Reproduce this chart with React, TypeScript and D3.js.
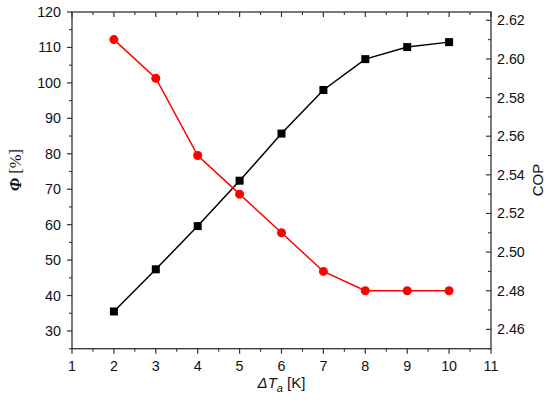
import React from "react";
import * as d3 from "d3";

const deltaT = [2, 3, 4, 5, 6, 7, 8, 9, 10];
const phiValues = [35.5, 47.4, 59.6, 72.4, 85.7, 98.0, 106.7, 110.1, 111.5];
const copValues = [2.61, 2.59, 2.55, 2.53, 2.51, 2.49, 2.48, 2.48, 2.48];
const xTicks = [1, 2, 3, 4, 5, 6, 7, 8, 9, 10, 11];
const leftTicks = [30, 40, 50, 60, 70, 80, 90, 100, 110, 120];
const rightTicks = [2.46, 2.48, 2.5, 2.52, 2.54, 2.56, 2.58, 2.6, 2.62];

const W = 550, H = 410;
const L = 72, R = 491, T = 12, B = 348.7;
const FONT = "Liberation Sans, Arial, sans-serif";

export default function App() {
  const x = d3.scaleLinear().domain([1, 11]).range([L, R]);
  const yL = d3.scaleLinear().domain([25, 120]).range([B, T]);
  const yR = d3.scaleLinear().domain([2.45, 2.6243]).range([B, T]);

  const xMinor = d3.range(1.5, 11, 1);
  const leftMinor = d3.range(25, 120, 10);
  const rightMinor = d3.range(2.45, 2.62, 0.02);

  const linePhi = d3.line<number>().x((_, i) => x(deltaT[i])).y((d) => yL(d));
  const lineCop = d3.line<number>().x((_, i) => x(deltaT[i])).y((d) => yR(d));

  const stroke = "#333";
  return (
    <div style={{ position: "absolute", left: 0, top: 0 }}>
      <svg width={W} height={H} style={{ display: "block", background: "#fff" }} fontFamily={FONT}>
        <rect x={L} y={T} width={R - L} height={B - T} fill="none" stroke={stroke} strokeWidth={1.3} />
        {xTicks.map((t) => (
          <g key={"xb" + t}>
            <line x1={x(t)} x2={x(t)} y1={B} y2={B + 5} stroke={stroke} strokeWidth={1.2} />
            <line x1={x(t)} x2={x(t)} y1={T} y2={T + 5} stroke={stroke} strokeWidth={1.2} />
            <text x={x(t)} y={371} textAnchor="middle" fontSize={14.3} fill="#111">{t}</text>
          </g>
        ))}
        {xMinor.map((t) => (
          <g key={"xm" + t}>
            <line x1={x(t)} x2={x(t)} y1={B} y2={B + 3} stroke={stroke} strokeWidth={1.1} />
            <line x1={x(t)} x2={x(t)} y1={T} y2={T + 3} stroke={stroke} strokeWidth={1.1} />
          </g>
        ))}
        {leftTicks.map((t) => (
          <g key={"yl" + t}>
            <line x1={L - 5} x2={L} y1={yL(t)} y2={yL(t)} stroke={stroke} strokeWidth={1.2} />
            <text x={61} y={yL(t) + 5} textAnchor="end" fontSize={14.3} fill="#111">{t}</text>
          </g>
        ))}
        {leftMinor.map((t) => (
          <line key={"ylm" + t} x1={L - 3} x2={L} y1={yL(t)} y2={yL(t)} stroke={stroke} strokeWidth={1.1} />
        ))}
        {rightTicks.map((t) => (
          <g key={"yr" + t}>
            <line x1={R - 5} x2={R} y1={yR(t)} y2={yR(t)} stroke={stroke} strokeWidth={1.2} />
            <text x={497} y={yR(t) + 5} textAnchor="start" fontSize={14.3} fill="#111">{t.toFixed(2)}</text>
          </g>
        ))}
        {rightMinor.map((t) => (
          <line key={"yrm" + t} x1={R - 3} x2={R} y1={yR(t)} y2={yR(t)} stroke={stroke} strokeWidth={1.1} />
        ))}
        <path d={linePhi(phiValues) ?? ""} fill="none" stroke="#000" strokeWidth={1.5} />
        {phiValues.map((v, i) => (
          <rect key={"p" + i} x={x(deltaT[i]) - 4} y={yL(v) - 4} width={8} height={8} fill="#000" />
        ))}
        <path d={lineCop(copValues) ?? ""} fill="none" stroke="#ff0000" strokeWidth={1.5} />
        {copValues.map((v, i) => (
          <circle key={"c" + i} cx={x(deltaT[i])} cy={yR(v)} r={4.5} fill="#ff0000" />
        ))}
        <text x={(L + R) / 2} y={388} textAnchor="middle" fontSize={15} fill="#111">
          <tspan fontStyle="italic">ΔT</tspan>
          <tspan fontStyle="italic" fontSize={11} dy={4}>a</tspan>
          <tspan dy={-4}> [K]</tspan>
        </text>
        <text transform={`translate(21, 170) rotate(-90)`} textAnchor="middle" fontSize={16.5}
          fill="#111" fontFamily="Liberation Serif, Times New Roman, serif">
          <tspan fontStyle="italic" fontWeight="bold">Φ</tspan>
          <tspan> [%]</tspan>
        </text>
        <text transform={`translate(543, 180) rotate(-90)`} textAnchor="middle" fontSize={15} fill="#111">COP</text>
      </svg>
    </div>
  );
}
